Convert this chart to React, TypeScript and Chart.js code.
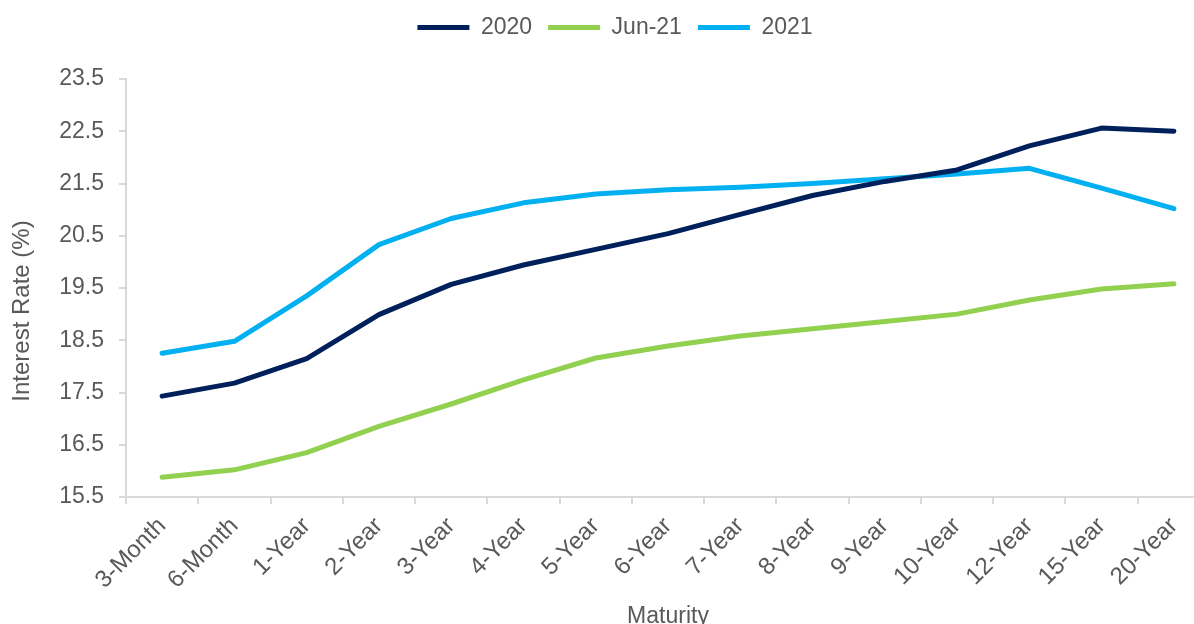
import React, { useEffect, useRef } from 'react';
import { Chart, registerables } from 'chart.js';

Chart.register(...registerables);

const categories = ['3-Month', '6-Month', '1-Year', '2-Year', '3-Year', '4-Year', '5-Year', '6-Year', '7-Year', '8-Year', '9-Year', '10-Year', '12-Year', '15-Year', '20-Year'];
const series2020 = [17.43, 17.68, 18.15, 18.99, 19.57, 19.94, 20.24, 20.54, 20.91, 21.27, 21.54, 21.76, 22.22, 22.56, 22.5];
const seriesJun21 = [15.88, 16.02, 16.35, 16.85, 17.28, 17.74, 18.16, 18.39, 18.58, 18.72, 18.86, 19.0, 19.27, 19.48, 19.58];
const series2021 = [18.25, 18.48, 19.35, 20.33, 20.83, 21.13, 21.3, 21.38, 21.43, 21.5, 21.59, 21.68, 21.79, 21.41, 21.02];
const yTicks = [15.5, 16.5, 17.5, 18.5, 19.5, 20.5, 21.5, 22.5, 23.5];

const FONT = "'Liberation Sans', Arial, sans-serif";
const TEXT = '#595959';
const AXIS = '#D9D9D9';

const layoutTweak = {
  id: 'layoutTweak',
  beforeLayout(chart: any) {
    const lg = chart.legend;
    if (!lg || lg._tweaked) return;
    lg._tweaked = true;
    const origFit = lg.fit.bind(lg);
    lg.fit = function () {
      origFit();
      this.height += 30;
    };
    const origDraw = lg.draw.bind(lg);
    lg.draw = function () {
      const ctx = this.ctx;
      ctx.save();
      ctx.translate(10, 0);
      origDraw();
      ctx.restore();
    };
  },
  afterLayout(chart: any) {
    const ys = chart.scales.y;
    if (!ys || ys._tweaked) return;
    ys._tweaked = true;
    const origTitle = ys.drawTitle.bind(ys);
    ys.drawTitle = function () {
      const ctx = this.ctx;
      ctx.save();
      ctx.translate(0, 23);
      origTitle();
      ctx.restore();
    };
  },
};

export default function App() {
  const ref = useRef<HTMLCanvasElement>(null);

  useEffect(() => {
    const canvas = ref.current;
    if (!canvas) return;
    const mk = (label: string, data: number[], color: string) => ({
      label,
      data,
      borderColor: color,
      backgroundColor: color,
      borderWidth: 5,
      borderCapStyle: 'round' as const,
      borderJoinStyle: 'round' as const,
      pointRadius: 0,
      pointHoverRadius: 0,
      tension: 0,
      fill: false,
    });
    const chart = new Chart(canvas, {
      type: 'line',
      data: {
        labels: categories,
        datasets: [
          mk('2020', series2020, '#00205B'),
          mk('Jun-21', seriesJun21, '#92D050'),
          mk('2021', series2021, '#00B0F0'),
        ],
      },
      options: {
        responsive: false,
        animation: false,
        layout: { padding: { top: 0, left: 0, right: 4, bottom: 0 } },
        plugins: {
          tooltip: { enabled: false },
          legend: {
            position: 'top',
            labels: {
              usePointStyle: true,
              pointStyle: 'line',
              pointStyleWidth: 52,
              padding: 16,
              color: TEXT,
              font: { family: FONT, size: 23 },
            },
          },
        },
        scales: {
          x: {
            type: 'category',
            offset: true,
            afterFit: (s: any) => {
              s.height = 143;
            },
            grid: {
              display: true,
              offset: true,
              drawOnChartArea: false,
              drawTicks: true,
              tickLength: 7,
              color: AXIS,
              lineWidth: 2,
            },
            border: { display: true, color: AXIS, width: 2 },
            ticks: {
              autoSkip: false,
              minRotation: 45,
              maxRotation: 45,
              padding: 8,
              color: TEXT,
              font: { family: FONT, size: 24 },
            },
            title: {
              display: true,
              text: 'Maturity',
              color: TEXT,
              font: { family: FONT, size: 23 },
              padding: { top: 0, bottom: 10 },
            },
          },
          y: {
            min: 15.5,
            max: 23.5,
            afterFit: (s: any) => {
              s.width = 126;
            },
            afterBuildTicks: (s: any) => {
              s.ticks = yTicks.map((v) => ({ value: v }));
            },
            grid: {
              display: true,
              drawOnChartArea: false,
              drawTicks: true,
              tickLength: 7,
              color: AXIS,
              lineWidth: 2,
            },
            border: { display: true, color: AXIS, width: 2 },
            ticks: {
              padding: 15,
              color: TEXT,
              font: { family: FONT, size: 23 },
              callback: (v: any) => Number(v).toFixed(1),
            },
            title: {
              display: true,
              text: 'Interest Rate (%)',
              color: TEXT,
              font: { family: FONT, size: 24 },
              padding: { top: 8, bottom: 0 },
            },
          },
        },
      },
      plugins: [layoutTweak],
    });
    return () => chart.destroy();
  }, []);

  return (
    <div style={{ position: 'fixed', left: 0, top: 0, width: 1194, height: 624, overflow: 'hidden', background: '#fff' }}>
      <canvas ref={ref} width={1214} height={640} style={{ display: 'block' }} />
    </div>
  );
}
